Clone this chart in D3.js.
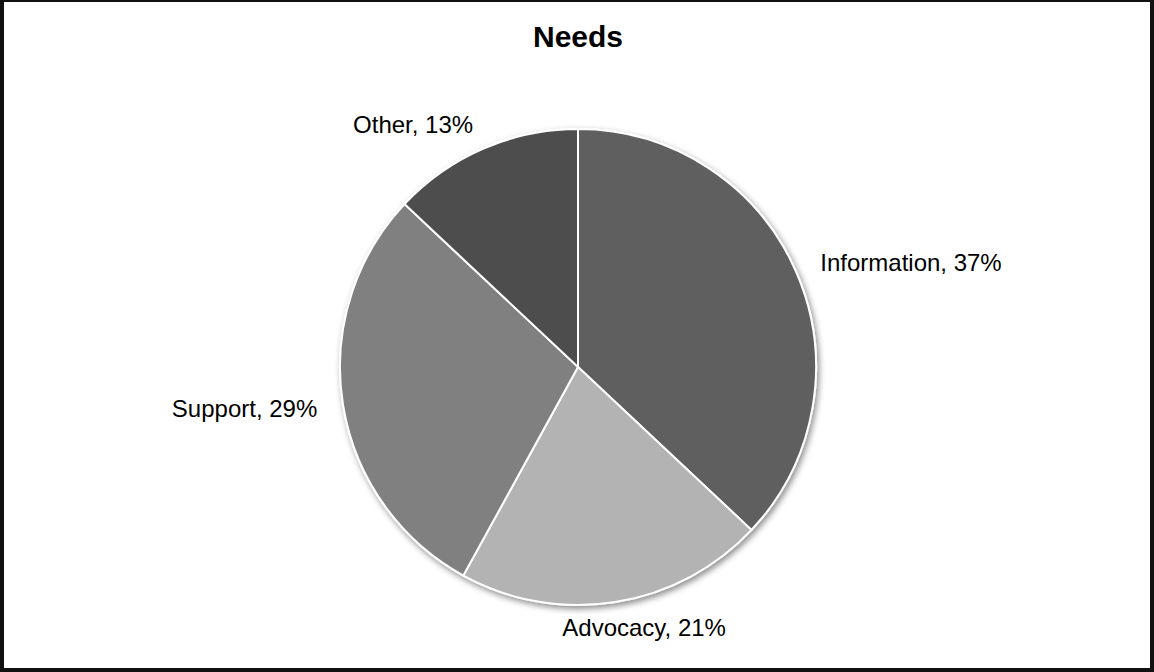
<!DOCTYPE html>
<html>
<head>
<meta charset="utf-8">
<script src="https://cdn.jsdelivr.net/npm/d3@7"></script>
<style>
  html, body { margin: 0; padding: 0; background: #fff; }
  svg { display: block; }
</style>
</head>
<body>
<svg id="chart" width="1154" height="672"></svg>
<script>
// Share of needs, in percent
const categories = ["Information", "Advocacy", "Support", "Other"];
const values = [37, 21, 29, 13];
const sliceColors = ["#5f5f5f", "#b3b3b3", "#808080", "#4e4e4e"];
const title = "Needs";

const W = 1154, H = 672;
const cx = 578, cy = 367, radius = 238;
const labelRadius = 264;
const labelFont = "'Liberation Sans', Arial, sans-serif";

const svg = d3.select("#chart");

// outer frame
svg.append("rect").attr("x", 0).attr("y", 0).attr("width", W).attr("height", H).attr("fill", "#111");
svg.append("rect").attr("x", 4).attr("y", 2).attr("width", W - 8).attr("height", H - 6).attr("fill", "#fff");

// soft shadow under the pie
const defs = svg.append("defs");
const f = defs.append("filter").attr("id", "pieShadow")
  .attr("x", "-10%").attr("y", "-10%").attr("width", "120%").attr("height", "120%");
f.append("feDropShadow").attr("dx", 2).attr("dy", 3).attr("stdDeviation", 3)
  .attr("flood-color", "#000").attr("flood-opacity", 0.45);

svg.append("text")
  .attr("x", cx).attr("y", 47)
  .attr("text-anchor", "middle")
  .attr("font-family", labelFont)
  .attr("font-weight", "bold")
  .attr("font-size", 30)
  .attr("fill", "#000")
  .text(title);

const data = categories.map((c, i) => ({ name: c, value: values[i], color: sliceColors[i] }));

const pie = d3.pie().value(d => d.value).sort(null);
const arcs = pie(data);
const arc = d3.arc().innerRadius(0).outerRadius(radius);

const g = svg.append("g").attr("transform", `translate(${cx},${cy})`);

g.append("g").attr("filter", "url(#pieShadow)")
  .selectAll("path").data(arcs).join("path")
  .attr("d", arc)
  .attr("fill", d => d.data.color)
  .attr("stroke", "#fff")
  .attr("stroke-width", 2)
  .attr("stroke-linejoin", "round");

// category labels placed just outside each slice
const labels = g.selectAll("text.lbl").data(arcs).join("text")
  .attr("class", "lbl")
  .attr("font-family", labelFont)
  .attr("font-size", 24)
  .attr("fill", "#000")
  .attr("dominant-baseline", "central")
  .text(d => `${d.data.name}, ${d.data.value}%`);

labels.each(function (d) {
  const a = (d.startAngle + d.endAngle) / 2;
  const s = Math.sin(a), c = -Math.cos(a);
  const px = labelRadius * s, py = labelRadius * c;
  const w = this.getComputedTextLength();
  let left;
  if (Math.abs(s) < 0.2) left = px - w * (1 - s) / 2 + 12;
  else left = s > 0 ? px : px - w;
  d3.select(this).attr("x", left).attr("y", py);
});
</script>
</body>
</html>
